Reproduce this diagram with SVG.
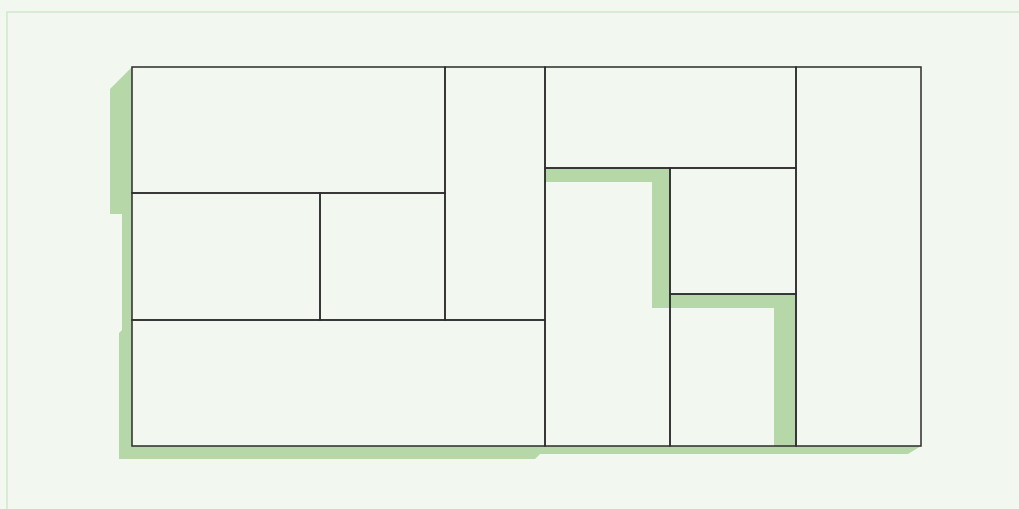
<svg xmlns="http://www.w3.org/2000/svg" width="1019" height="509" viewBox="0 0 1019 509">
<style>
.bg{fill:#f2f7ef}
.frame{fill:none;stroke:#d9ebd3;stroke-width:2}
.shadow{fill:#b6d7a8}
.cell{fill:none;stroke:#2d2d2d;stroke-width:1.5}
</style>
<rect class="bg" x="0" y="0" width="1019" height="509"/>
<rect class="frame" x="7" y="12" width="1030" height="520"/>
<g id="shadows">
<polygon class="shadow" points="132,67 110,89 110,214 122,214 122,330 119,333 119,459 535,459 540,454 908,454 921,446 132,446"/>
<polygon class="shadow" points="545,168 670,168 670,308 652,308 652,182 545,182"/>
<polygon class="shadow" points="670,294 796,294 796,446 774,446 774,308 670,308"/>
</g>
<g id="cell1"><rect class="cell" x="132" y="67" width="313" height="126"/></g>
<g id="cell2"><rect class="cell" x="445" y="67" width="100" height="253"/></g>
<g id="cell3"><rect class="cell" x="132" y="193" width="188" height="127"/></g>
<g id="cell4"><rect class="cell" x="320" y="193" width="125" height="127"/></g>
<g id="cell5"><rect class="cell" x="132" y="320" width="413" height="126"/></g>
<g id="cell6"><rect class="cell" x="545" y="67" width="251" height="101"/></g>
<g id="cell7"><rect class="cell" x="545" y="168" width="125" height="278"/></g>
<g id="cell8"><rect class="cell" x="670" y="168" width="126" height="126"/></g>
<g id="cell9"><rect class="cell" x="670" y="294" width="126" height="152"/></g>
<g id="cell10"><rect class="cell" x="796" y="67" width="125" height="379"/></g>
</svg>
